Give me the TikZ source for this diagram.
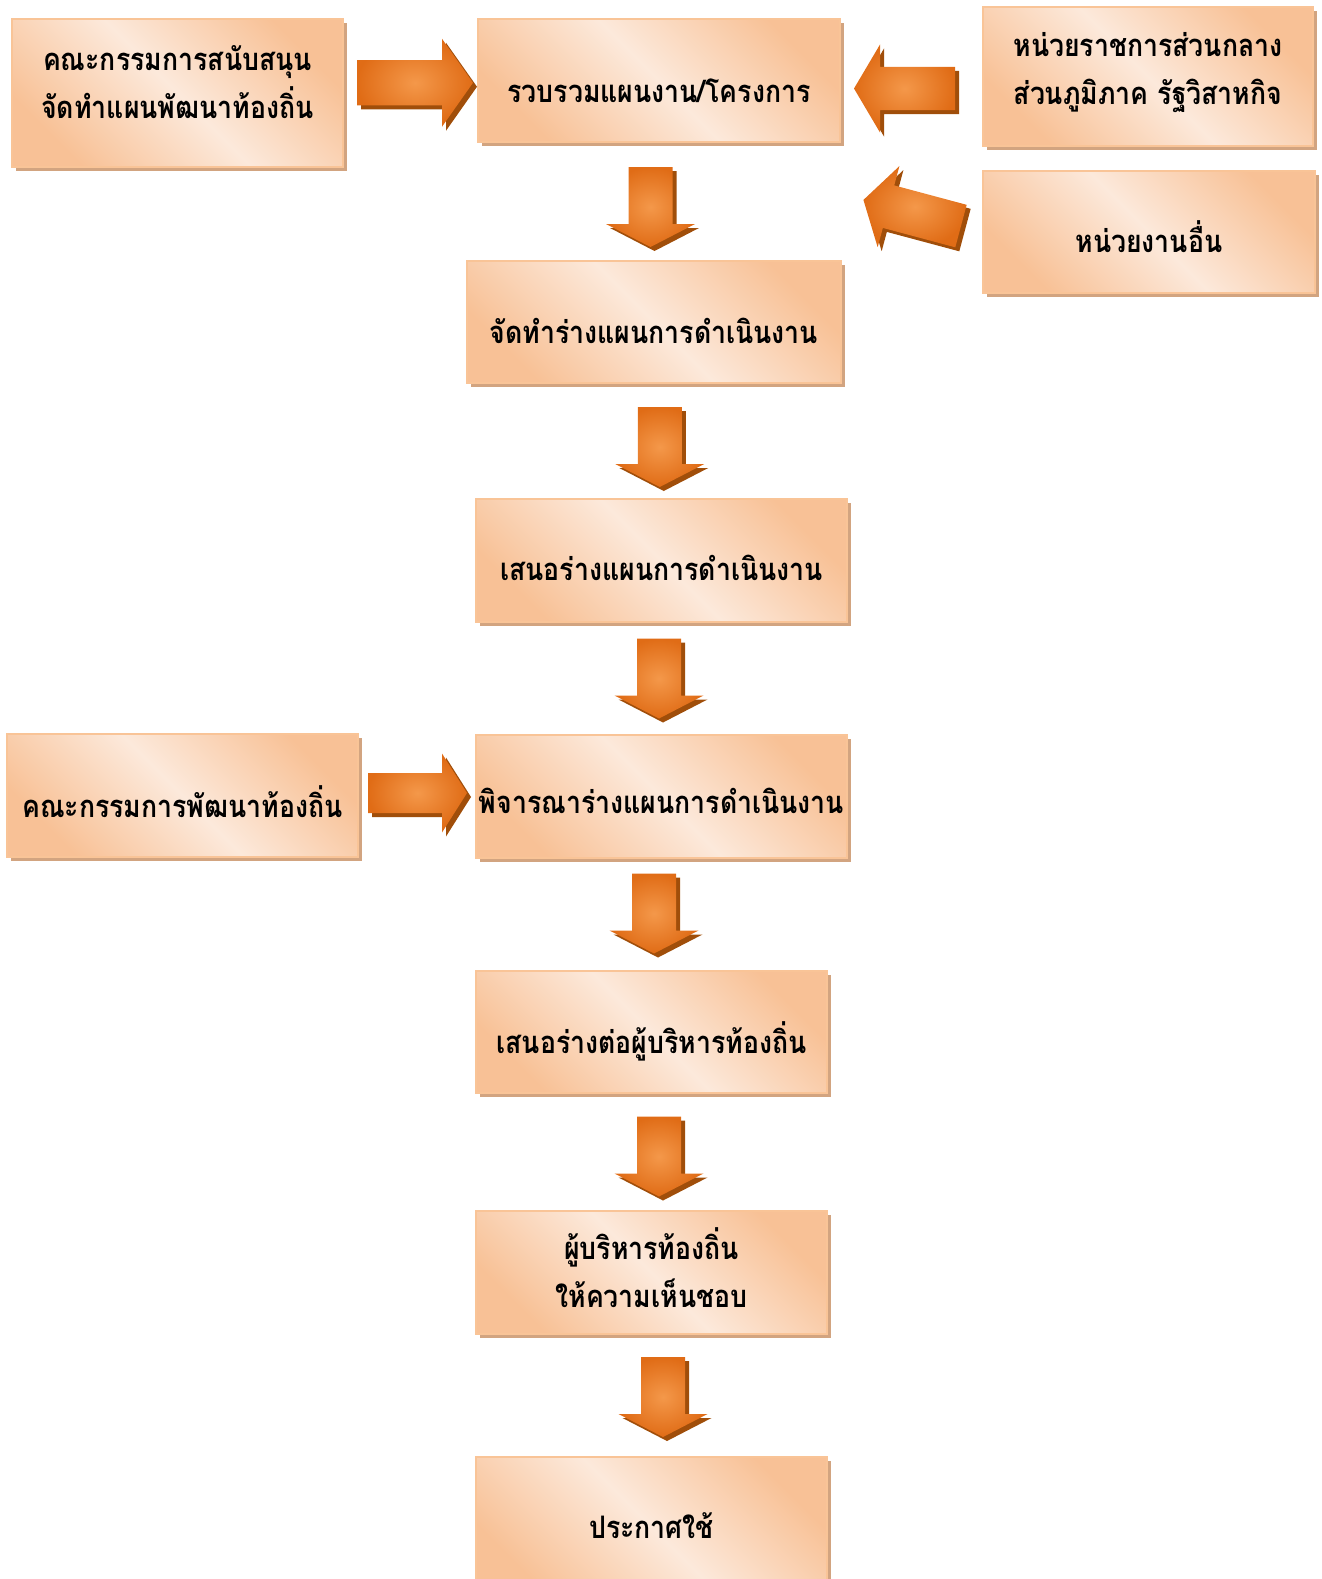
\documentclass[tikz,border=0pt]{standalone}
\usepackage{fontspec}
\newfontfamily\thaifont[Script=Thai, FakeStretch=0.86]{Loma}
\usetikzlibrary{calc,shadows}
\definecolor{boxdark}{HTML}{F8C196}
\definecolor{boxlight}{HTML}{FCE9DB}
\definecolor{boxline}{HTML}{F9C497}
\definecolor{boxshadow}{HTML}{D2A480}
\definecolor{arrowdark}{HTML}{E06C16}
\definecolor{arrowlight}{HTML}{F4984A}
\definecolor{arrowshadow}{HTML}{A04E0A}
\tikzset{
	planbox/.style={draw=boxline, line width=1.6pt, top color=boxdark, bottom color=boxdark,
		middle color=boxlight, shading angle=-45, align=center, inner sep=0pt,
		font=\thaifont\bfseries\fontsize{31}{48}\selectfont, text depth=0pt,
		general shadow={fill=boxshadow, shadow xshift=4pt, shadow yshift=-4pt}},
	baseline drop/.style={text height=#1}
}
% block arrow: [angle] {centre} (length:shaft:head:head length)
\def\blockarrow[#1]#2(#3:#4:#5:#6){%
	\fill[arrowshadow, shift={#2}, shift={(4,4)}, rotate=#1] (-#3/2, -#4/2) -- (#3/2-#6, -#4/2) -- (#3/2-#6, -#5/2) -- (#3/2, 0) -- (#3/2-#6, #5/2) -- (#3/2-#6, #4/2) -- (-#3/2, #4/2) -- cycle;
	\shade[inner color=arrowlight, outer color=arrowdark, shift={#2}, rotate=#1] (-#3/2, -#4/2) -- (#3/2-#6, -#4/2) -- (#3/2-#6, -#5/2) -- (#3/2, 0) -- (#3/2-#6, #5/2) -- (#3/2-#6, #4/2) -- (-#3/2, #4/2) -- cycle;}

\begin{document}
\begin{tikzpicture}[x=1pt, y=-1pt]
		%%%%% START %%%%%
		\useasboundingbox (0, 0) rectangle (1322, 1579);
		
		\node[planbox, baseline drop=50pt, minimum width=331, minimum height=148] (support) at (177.5, 93) {คณะกรรมการสนับสนุน\\จัดทำแผนพัฒนาท้องถิ่น};
		\node[planbox, baseline drop=43pt, minimum width=362, minimum height=123] (collect) at (659, 80.5) {รวบรวมแผนงาน/โครงการ};
		\node[planbox, baseline drop=55pt, minimum width=330, minimum height=139] (central) at (1148, 76.5) {หน่วยราชการส่วนกลาง\\ส่วนภูมิภาค รัฐวิสาหกิจ};
		\node[planbox, baseline drop=40pt, minimum width=332, minimum height=122] (other) at (1149, 232) {หน่วยงานอื่น};
		
		\node[planbox, baseline drop=42pt, minimum width=374, minimum height=122] (draft) at (654, 322) {จัดทำร่างแผนการดำเนินงาน};
		\node[planbox, baseline drop=39pt, minimum width=371, minimum height=123] (propose) at (661.5, 560.5) {เสนอร่างแผนการดำเนินงาน};
		
		\node[planbox, baseline drop=43pt, minimum width=351, minimum height=123] (committee) at (182.5, 795.5) {คณะกรรมการพัฒนาท้องถิ่น};
		\node[planbox, baseline drop=34pt, minimum width=371, minimum height=123] (consider) at (661.5, 796.5) {พิจารณาร่างแผนการดำเนินงาน};
		
		\node[planbox, baseline drop=42pt, minimum width=351, minimum height=122] (submit) at (651.5, 1032) {เสนอร่างต่อผู้บริหารท้องถิ่น};
		\node[planbox, baseline drop=70pt, minimum width=351, minimum height=123] (approve) at (651.5, 1272.5) {ผู้บริหารท้องถิ่น\\ให้ความเห็นชอบ};
		\node[planbox, baseline drop=22pt, minimum width=351, minimum height=140] (announce) at (651.5, 1527) {ประกาศใช้};
		
		% side arrows
		\blockarrow[0]{($(support.east)!0.5!(collect.west)+(4.5,-4)$)}(116:45:88:31)
		\blockarrow[180]{($(central.west)!0.5!(collect.east)+(-7,10)$)}(101:43:88:26)
		\blockarrow[165]{($(other.west)+(-70,-19)$)}(101:44:84:26)
		\blockarrow[0]{($(committee.east)!0.5!(consider.west)+(0.5,-3)$)}(99:40:79:25)
		
		% down arrows
		\blockarrow[-90]{($(collect.south)!0.5!(draft.north)+(-6,5.5)$)}(80:44:89:23)
		\blockarrow[-90]{($(draft.south)!0.5!(propose.north)+(2,6)$)}(80:44:89:23)
		\blockarrow[-90]{($(propose.south)!0.5!(consider.north)+(-2.5,0)$)}(80:44:89:23)
		\blockarrow[-90]{($(consider.south)!0.5!(submit.north)+(-2.5,-1)$)}(80:44:89:23)
		\blockarrow[-90]{($(submit.south)!0.5!(approve.north)+(7.5,4.5)$)}(80:44:89:23)
		\blockarrow[-90]{($(approve.south)!0.5!(announce.north)+(11.5,1.5)$)}(80:44:89:23)
		%%%%% END %%%%%
\end{tikzpicture}
\end{document}
